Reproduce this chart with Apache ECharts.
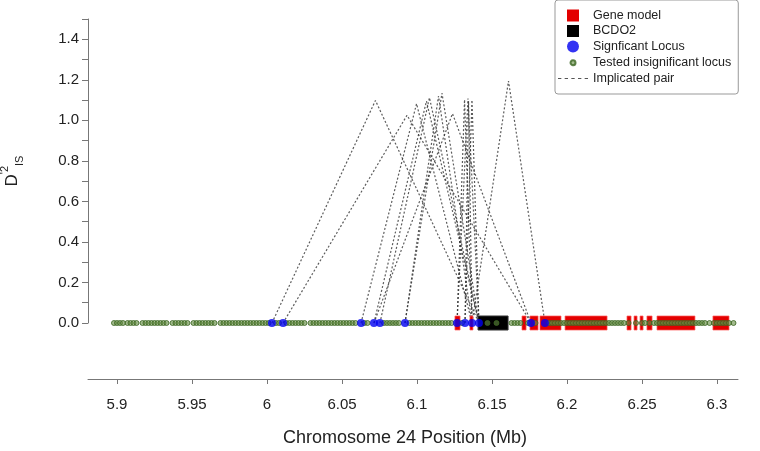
<!DOCTYPE html>
<html><head><meta charset="utf-8">
<script src="https://cdn.jsdelivr.net/npm/echarts@6/dist/echarts.min.js"></script>
<style>html,body{margin:0;padding:0;background:#fff}#c{width:760px;height:451px}</style>
</head><body><div id="c"></div>
<script>
// ---- data ----
const xTicks = [5.9, 5.95, 6, 6.05, 6.1, 6.15, 6.2, 6.25, 6.3];
const yTickLabels = [0, 0.2, 0.4, 0.6, 0.8, 1.0, 1.2, 1.4];
const yTickMarks = [0, 0.1, 0.2, 0.3, 0.4, 0.5, 0.6, 0.7, 0.8, 0.9, 1.0, 1.1, 1.2, 1.3, 1.4, 1.5];

// gene model exons (Mb)
const geneStart = [6.1253, 6.1353, 6.1700, 6.1753, 6.1820, 6.1987, 6.2400, 6.2447, 6.2487, 6.2533, 6.2600, 6.2973];
const geneEnd   = [6.1287, 6.1373, 6.1727, 6.1807, 6.1960, 6.2267, 6.2427, 6.2467, 6.2507, 6.2567, 6.2853, 6.3080];
// BCDO2
const bcdoStart = [6.1407];
const bcdoEnd   = [6.1607];

// significant loci (Mb)
const sigLoci = [6.0033, 6.0107, 6.0627, 6.0713, 6.0753, 6.0920, 6.1267, 6.1320, 6.1367, 6.1413, 6.1760, 6.1853];

// tested insignificant loci (Mb)
const insigLoci = [
  5.898, 5.900, 5.902, 5.904, 5.907, 5.909, 5.911, 5.913, 5.917, 5.919, 5.921, 5.923, 5.925, 5.927, 5.929, 5.931,
  5.933, 5.937, 5.939, 5.941, 5.943, 5.945, 5.947, 5.951, 5.953, 5.955, 5.957, 5.959, 5.961, 5.963, 5.965, 5.969,
  5.971, 5.973, 5.975, 5.977, 5.979, 5.981, 5.983, 5.985, 5.987, 5.989, 5.991, 5.993, 5.995, 5.997, 5.999, 6.001,
  6.006, 6.008, 6.013, 6.015, 6.017, 6.019, 6.021, 6.023, 6.025, 6.029, 6.031, 6.033, 6.035, 6.037, 6.039, 6.041,
  6.043, 6.045, 6.047, 6.049, 6.051, 6.053, 6.055, 6.057, 6.059, 6.065, 6.067, 6.078, 6.080, 6.082, 6.084, 6.086,
  6.088, 6.095, 6.097, 6.099, 6.101, 6.103, 6.105, 6.107, 6.109, 6.111, 6.113, 6.115, 6.117, 6.119, 6.121, 6.123,
  6.130, 6.147, 6.153, 6.163, 6.165, 6.167, 6.169, 6.174, 6.179, 6.188, 6.190, 6.192, 6.194, 6.196, 6.198, 6.200,
  6.202, 6.204, 6.206, 6.208, 6.210, 6.212, 6.214, 6.216, 6.218, 6.220, 6.222, 6.224, 6.226, 6.228, 6.230, 6.232,
  6.234, 6.236, 6.238, 6.241, 6.246, 6.250, 6.252, 6.255, 6.258, 6.260, 6.262, 6.264, 6.266, 6.268, 6.270, 6.272,
  6.274, 6.276, 6.278, 6.280, 6.282, 6.284, 6.286, 6.288, 6.290, 6.292, 6.295, 6.298, 6.300, 6.302, 6.304, 6.306,
  6.308, 6.311
];

// implicated pairs: left locus, right locus, D'2 value
const pairLeft  = [6.0033, 6.0107, 6.0627, 6.0713, 6.0920, 6.0920, 6.0753, 6.0713, 6.1267, 6.1320, 6.1267, 6.1367, 6.1320];
const pairRight = [6.1413, 6.1760, 6.1367, 6.1413, 6.1413, 6.1367, 6.1413, 6.1760, 6.1367, 6.1367, 6.1413, 6.1853, 6.1413];
const pairD     = [1.098,  1.025,  1.082,  1.095,  1.134,  1.120,  1.112,  1.033,  1.102,  1.095,  1.108,  1.194,  1.100];

// ---- chart ----
const FONT = '"Liberation Sans", Arial, Helvetica, sans-serif';
const chart = echarts.init(document.getElementById('c'), null, {renderer: 'canvas'});

function blockSeries(name, starts, ends, fill, stroke, z) {
  return {
    name: name, type: 'custom', z: z, clip: false,
    data: starts.map((s, i) => [s, ends[i], 0]),
    encode: {x: [0, 1], y: 2},
    itemStyle: {color: fill},
    renderItem: function (params, api) {
      const a = api.coord([api.value(0), api.value(2)]);
      const b = api.coord([api.value(1), api.value(2)]);
      return {
        type: 'rect',
        shape: {x: a[0], y: a[1] - 7, width: Math.max(b[0] - a[0], 2), height: 14},
        style: {fill: fill, stroke: stroke, lineWidth: 1}
      };
    }
  };
}

const pairSeries = pairLeft.map((l, i) => ({
  name: 'Implicated pair', type: 'line', z: 1, clip: false,
  symbol: 'none', silent: true,
  itemStyle: {color: '#555'},
  lineStyle: {color: '#333', width: 1.2, type: [2, 2], opacity: 0.8},
  data: [[l, 0], [(l + pairRight[i]) / 2, pairD[i]], [pairRight[i], 0]]
}));

const option = {
  animation: false,
  backgroundColor: '#fff',
  grid: {left: 88, right: 22, top: 19, bottom: 128, outerBoundsMode: 'none', containLabel: false},
  legend: {
    orient: 'vertical', left: 555, top: 0,
    padding: [9, 7, 9, 3], itemGap: 2.5, itemWidth: 30, itemHeight: 12,
    borderColor: '#999', borderWidth: 1, borderRadius: 3,
    selectedMode: false,
    textStyle: {fontFamily: FONT, fontSize: 12.5, color: '#222'},
    data: [
      {name: 'Gene model', icon: 'path://M0 0H11V11H0Z'},
      {name: 'BCDO2', icon: 'path://M0 0H11V11H0Z'},
      {name: 'Signficant Locus', icon: 'circle'},
      {name: 'Tested insignificant locus', icon: 'path://M0 0M12 12M8.5 6A2.5 2.5 0 1 1 8.49 5.9Z'},
      {name: 'Implicated pair', icon: 'path://M0 0H3V1H0Z M6 0H9V1H6Z M12 0H15V1H12Z M18 0H21V1H18Z M24 0H27V1H24Z'}
    ]
  },
  xAxis: {
    type: 'value', min: 5.880667, max: 6.314, offset: 56,
    axisLine: {show: true, onZero: false, lineStyle: {color: '#777', width: 1}},
    axisTick: {show: true, length: 5, customValues: xTicks, lineStyle: {color: '#777'}},
    axisLabel: {customValues: xTicks, formatter: v => String(+(+v).toFixed(2)), fontFamily: FONT, fontSize: 15, color: '#222', margin: 18},
    splitLine: {show: false},
    name: 'Chromosome 24 Position (Mb)', nameLocation: 'middle', nameGap: 50,
    nameTextStyle: {fontFamily: FONT, fontSize: 18, color: '#222', padding: [0, 16, 0, 0]}
  },
  yAxis: {
    type: 'value', min: 0, max: 1.5,
    axisLine: {show: true, onZero: false, lineStyle: {color: '#777', width: 1}},
    axisTick: {show: true, length: 6, customValues: yTickMarks, lineStyle: {color: '#777'}},
    axisLabel: {customValues: yTickLabels, formatter: v => (+v).toFixed(1), fontFamily: FONT, fontSize: 15, color: '#222', margin: 9},
    splitLine: {show: false},
    name: "{d|D}{s|'2}{i|IS}", nameLocation: 'middle', nameRotate: 90, nameGap: 63,
    nameTextStyle: {
      fontFamily: FONT, color: '#222',
      rich: {
        d: {fontFamily: FONT, fontSize: 17, color: '#222', lineHeight: 26},
        s: {fontFamily: FONT, fontSize: 11, color: '#222', verticalAlign: 'top', lineHeight: 26},
        i: {fontFamily: FONT, fontSize: 11, color: '#222', verticalAlign: 'bottom', lineHeight: 26}
      }
    }
  },
  series: [
    ...pairSeries,
    blockSeries('Gene model', geneStart, geneEnd, '#e30000', 'rgba(255,90,90,0.7)', 2),
    blockSeries('BCDO2', bcdoStart, bcdoEnd, '#000000', '#333', 3),
    {
      name: 'Tested insignificant locus', type: 'scatter', z: 4, clip: false, silent: true,
      symbol: 'circle', symbolSize: 5,
      itemStyle: {color: 'rgba(100,140,65,0.75)', borderColor: '#3a6520', borderWidth: 1},
      data: insigLoci.map(x => [x, 0])
    },
    {
      name: 'Signficant Locus', type: 'scatter', z: 5, clip: false, silent: true,
      symbol: 'circle', symbolSize: 8,
      itemStyle: {color: '#0000f0'},
      data: sigLoci.map(x => [x, 0])
    }
  ]
};
chart.setOption(option);
</script>
</body></html>
